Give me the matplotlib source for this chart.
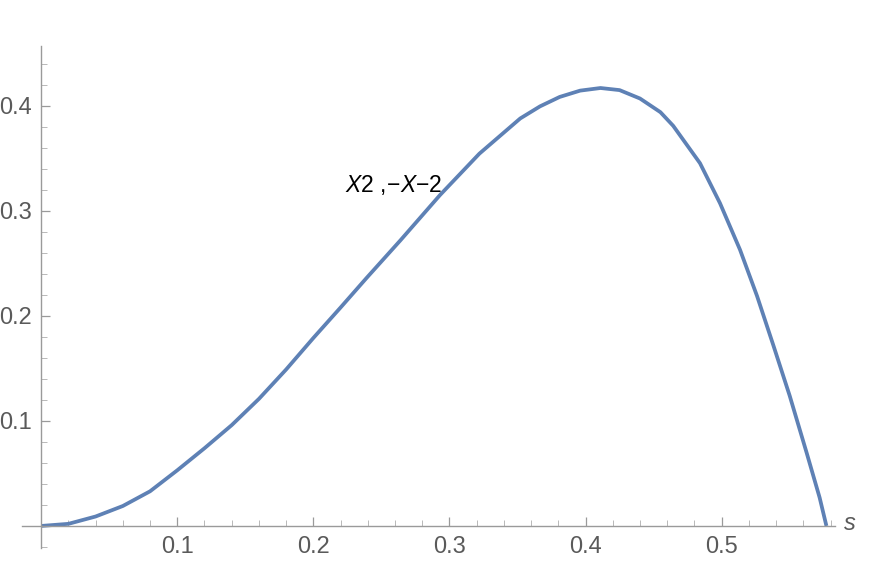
import matplotlib
matplotlib.use("Agg")
import matplotlib.pyplot as plt
from matplotlib.ticker import MultipleLocator, FuncFormatter

# ── data ────────────────────────────────────────────────────
s_vals = [0.0, 0.02, 0.04, 0.06, 0.08, 0.10, 0.12, 0.14, 0.16, 0.18,
          0.20, 0.22, 0.239, 0.264, 0.293, 0.322, 0.352, 0.3665, 0.381,
          0.396, 0.411, 0.425, 0.440, 0.455, 0.4644, 0.4841, 0.4988,
          0.5135, 0.526, 0.538, 0.550, 0.5625, 0.572, 0.577]
y_vals = [0.0, 0.002, 0.009, 0.019, 0.033, 0.053, 0.074, 0.096, 0.121, 0.149,
          0.179, 0.208, 0.236, 0.272, 0.315, 0.3545, 0.388, 0.3995, 0.4085,
          0.4145, 0.417, 0.415, 0.407, 0.394, 0.381, 0.3454, 0.3073,
          0.263, 0.219, 0.172, 0.124, 0.0695, 0.027, 0.0]

x_ticks = [0.1, 0.2, 0.3, 0.4, 0.5]
y_ticks = [0.1, 0.2, 0.3, 0.4]
curve_label = r"$\mathit{X}\mathrm{2}\ ,\!\mathrm{-}\mathit{X}\mathrm{-2}$"

LINE_COLOR = "#5E81B5"
AXIS_COLOR = "#9a9a9a"
TEXT_COLOR = "#5a5a5a"

plt.rcParams["font.family"] = ["Liberation Sans", "DejaVu Sans"]
plt.rcParams["mathtext.fontset"] = "custom"
plt.rcParams["mathtext.rm"] = "Liberation Sans"
plt.rcParams["mathtext.it"] = "Liberation Sans:italic"

W, H = 877, 568
fig = plt.figure(figsize=(W / 100, H / 100), dpi=100)
ax = fig.add_axes([22 / W, 20 / H, (835 - 22) / W, (548 - 46) / H])

ax.plot(s_vals, y_vals, color=LINE_COLOR, linewidth=2.7,
        solid_joinstyle="round", solid_capstyle="butt", clip_on=False)

ax.set_xlim(-0.0141, 0.5833)
ax.set_ylim(-0.021, 0.457)

for side in ("top", "right"):
    ax.spines[side].set_visible(False)
for side in ("left", "bottom"):
    ax.spines[side].set_position(("data", 0))
    ax.spines[side].set_color(AXIS_COLOR)
    ax.spines[side].set_linewidth(1.0)

ax.xaxis.set_major_locator(plt.FixedLocator(x_ticks))
ax.yaxis.set_major_locator(plt.FixedLocator(y_ticks))
ax.xaxis.set_minor_locator(MultipleLocator(0.02))
ax.yaxis.set_minor_locator(MultipleLocator(0.02))
fmt = FuncFormatter(lambda v, _: f"{v:.1f}")
ax.xaxis.set_major_formatter(fmt)
ax.yaxis.set_major_formatter(fmt)

ax.tick_params(which="major", direction="in", length=6.5, width=0.9,
               color=AXIS_COLOR, labelsize=17, labelcolor=TEXT_COLOR)
ax.tick_params(which="minor", direction="in", length=4, width=0.7,
               color="#b8b8b8")
ax.tick_params(axis="x", which="major", pad=7)
ax.tick_params(axis="y", which="major", pad=7)

ax.text(0.5895, 0.002, "s", fontsize=17, fontstyle="italic",
        color=TEXT_COLOR, ha="left", va="center", clip_on=False)

ax.text(0.259, 0.325, curve_label, fontsize=16.5, color="black",
        ha="center", va="center")

fig.savefig("out.png", dpi=100)
